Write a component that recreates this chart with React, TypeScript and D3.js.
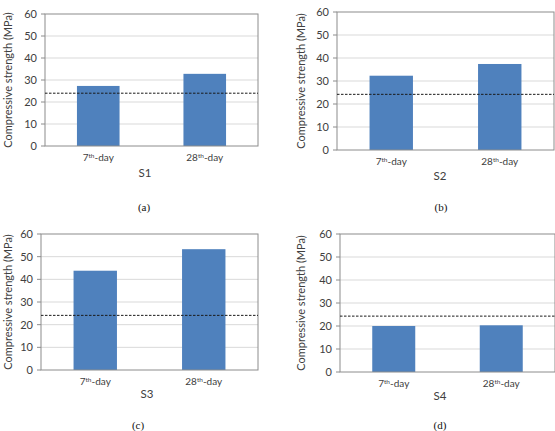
import { useRef, useEffect } from "react";
import * as d3 from "d3";

const days = ["7", "28"];
const mixes = ["S1", "S2", "S3", "S4"];
const tags = ["(a)", "(b)", "(c)", "(d)"];
const strength7 = [27.3, 32.3, 43.8, 20.0];
const strength28 = [32.8, 37.4, 53.3, 20.3];
const targetStrength = [24, 24.2, 24.1, 24.3];
const yTicks = [0, 10, 20, 30, 40, 50, 60];

// plot box + label anchors for each panel
const layout = [
  { left: 45, right: 258, top: 14, bottom: 146, titleX: 8, catY: 161, subX: 145, subY: 177, tagX: 144, tagY: 211 },
  { left: 337, right: 554, top: 12, bottom: 150, titleX: 301, catY: 165, subX: 440, subY: 180, tagX: 441, tagY: 211 },
  { left: 41, right: 258, top: 234, bottom: 370, titleX: 8, catY: 385, subX: 147, subY: 398, tagX: 138, tagY: 429 },
  { left: 340, right: 555, top: 234, bottom: 372, titleX: 301, catY: 387, subX: 440, subY: 400, tagX: 440, tagY: 429 },
];

const SANS = "Lato, 'Open Sans', sans-serif";
const BAR = "#4f81bd";
const INK = "#404040";

const App = () => {
  const svgRef = useRef(null);

  useEffect(() => {
    const root = d3.select(svgRef.current);
    root.selectAll("*").remove();
    root.attr("width", 555).attr("height", 431);

    root.append("rect").attr("width", 555).attr("height", 431).attr("fill", "white");

    mixes.forEach((mix, i) => {
      const L = layout[i];
      const g = root.append("g");

      const x = d3
        .scaleBand()
        .domain(days)
        .range([L.left, L.right])
        .paddingInner(0.6)
        .paddingOuter(0.3);
      const y = d3.scaleLinear().domain([0, 60]).range([L.bottom, L.top]);

      // grid
      g.selectAll(".grid")
        .data(yTicks.slice(1, -1))
        .enter()
        .append("line")
        .attr("x1", L.left)
        .attr("x2", L.right)
        .attr("y1", (d) => y(d))
        .attr("y2", (d) => y(d))
        .attr("stroke", "#d9d9d9")
        .attr("stroke-width", 1);

      // bars
      const vals = [strength7[i], strength28[i]];
      g.selectAll(".bar")
        .data(days)
        .enter()
        .append("rect")
        .attr("x", (d) => x(d))
        .attr("width", x.bandwidth())
        .attr("y", (d, k) => y(vals[k]))
        .attr("height", (d, k) => y(0) - y(vals[k]))
        .attr("fill", BAR);

      // plot border
      g.append("rect")
        .attr("x", L.left)
        .attr("y", L.top)
        .attr("width", L.right - L.left)
        .attr("height", L.bottom - L.top)
        .attr("fill", "none")
        .attr("stroke", "#8c8c8c")
        .attr("stroke-width", 1);

      // target strength line
      g.append("line")
        .attr("x1", L.left)
        .attr("x2", L.right)
        .attr("y1", y(targetStrength[i]))
        .attr("y2", y(targetStrength[i]))
        .attr("stroke", "#1a1a1a")
        .attr("stroke-width", 1)
        .attr("stroke-dasharray", "2.5,1.5");

      // y ticks + labels
      g.selectAll(".tick")
        .data(yTicks)
        .enter()
        .append("line")
        .attr("x1", L.left - 4)
        .attr("x2", L.left)
        .attr("y1", (d) => y(d))
        .attr("y2", (d) => y(d))
        .attr("stroke", "#8c8c8c");

      g.selectAll(".ylab")
        .data(yTicks)
        .enter()
        .append("text")
        .attr("x", L.left - 8)
        .attr("y", (d) => y(d) + 4)
        .attr("text-anchor", "end")
        .style("font-family", SANS)
        .style("font-size", "11px")
        .style("fill", INK)
        .text((d) => d);

      g.append("text")
        .attr("transform", `translate(${L.titleX},${(L.top + L.bottom) / 2}) rotate(-90)`)
        .attr("text-anchor", "middle")
        .attr("dy", "0.35em")
        .style("font-family", SANS)
        .style("font-size", "11px")
        .style("fill", INK)
        .text("Compressive strength (MPa)");

      // category labels: 7th-day, 28th-day
      days.forEach((d) => {
        const t = g
          .append("text")
          .attr("x", x(d) + x.bandwidth() / 2)
          .attr("y", L.catY)
          .attr("text-anchor", "middle")
          .style("font-family", SANS)
          .style("font-size", "10px")
          .style("fill", INK);
        t.append("tspan").text(d);
        t.append("tspan").attr("dy", -3.5).style("font-size", "6.5px").text("th");
        t.append("tspan").attr("dy", 3.5).text("-day");
      });

      g.append("text")
        .attr("x", L.subX)
        .attr("y", L.subY)
        .attr("text-anchor", "middle")
        .style("font-family", SANS)
        .style("font-size", "11.5px")
        .style("fill", INK)
        .text(mix);

      g.append("text")
        .attr("x", L.tagX)
        .attr("y", L.tagY)
        .attr("text-anchor", "middle")
        .style("font-family", "'Liberation Serif', 'DejaVu Serif', serif")
        .style("font-size", "11px")
        .style("fill", "#111")
        .text(tags[i]);
    });
  }, []);

  return (
    <div style={{ position: "absolute", left: 0, top: 0 }}>
      <svg ref={svgRef} style={{ display: "block" }}></svg>
    </div>
  );
};

export default App;
